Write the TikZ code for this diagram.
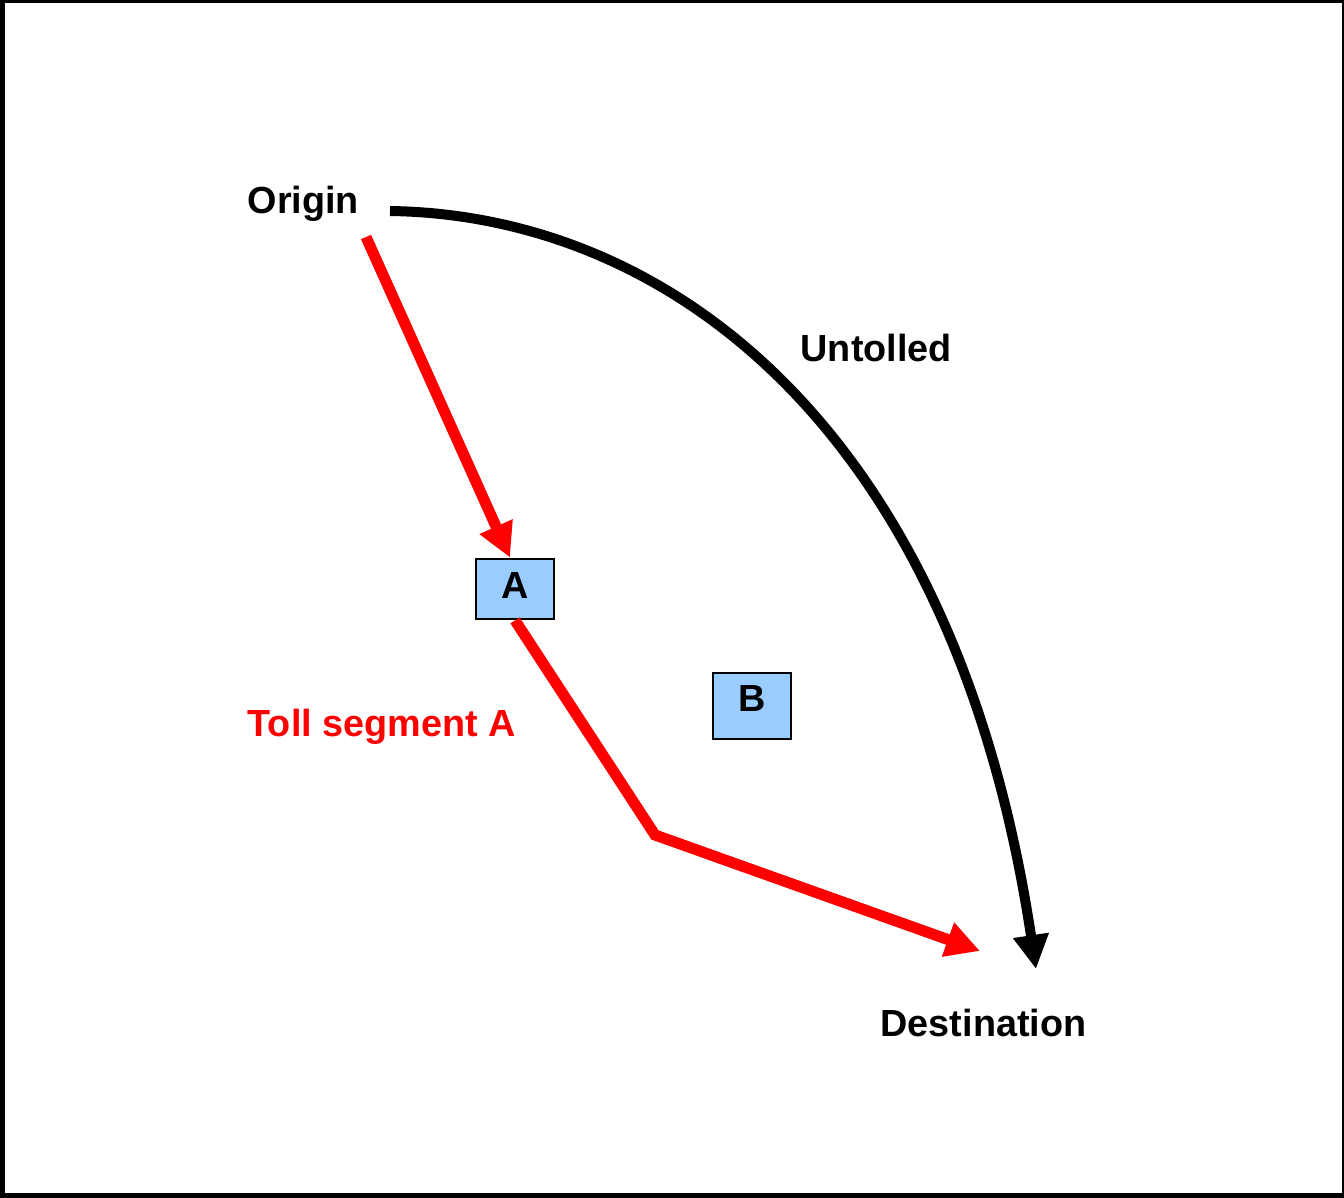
\documentclass[tikz,border=0pt]{standalone}
\usepackage{fontspec}
\setmainfont{Liberation Sans}
\usetikzlibrary{arrows.meta}

\definecolor{boxblue}{HTML}{99CCFF}

\tikzset{
  lbl/.style={font=\fontsize{10.75}{13}\selectfont\bfseries, inner sep=0pt, anchor=base west},
  tollbox/.style={draw=black, line width=0.028cm, fill=boxblue, minimum width=0.78cm,
    inner sep=0pt, text height=0.27cm, font=\fontsize{10.75}{13}\selectfont\bfseries},
  tollroute/.style={draw=red, line width=0.11cm, miter limit=4,
    -{Triangle[length=0.34cm,width=0.34cm]}},
  freeroute/.style={draw=black, line width=0.1cm,
    -{Triangle[length=0.34cm,width=0.34cm]}}
}

\begin{document}
\begin{tikzpicture}
	\useasboundingbox (0,0) rectangle (13.44,-11.98);
	\draw[line width=0.05cm] (0.025,0) rectangle (13.44,-11.955);

	% places and labels
	\node[lbl] (origin) at (2.47,-2.13) {Origin};
	\node[lbl] (untolled) at (8.00,-3.62) {Untolled};
	\node[lbl,red] (tollA) at (2.47,-7.36) {Toll segment A};
	\node[lbl] (dest) at (8.80,-10.36) {Destination};

	% toll plazas
	\node[tollbox,minimum height=0.60cm,text depth=0.08cm] (A) at (5.15,-5.89) {A};
	\node[tollbox,minimum height=0.66cm,text depth=0.16cm] (B) at (7.52,-7.06) {B};

	\coordinate (tollstart) at (3.66,-2.37);
	\coordinate (bend) at (6.55,-8.35);
	\coordinate (tollend) at (9.80,-9.51);
	\coordinate (freestart) at (3.90,-2.11);
	\coordinate (freeend) at (10.36,-9.69);

	% routes
	\draw[tollroute] (tollstart) -- ([xshift=-0.05cm]A.north);
	\draw[tollroute] (A.south) -- (bend) -- (tollend);
	\draw[freeroute] (freestart) .. controls (6.7,-2.15) and (9.55,-4.3) .. (freeend);
\end{tikzpicture}
\end{document}
